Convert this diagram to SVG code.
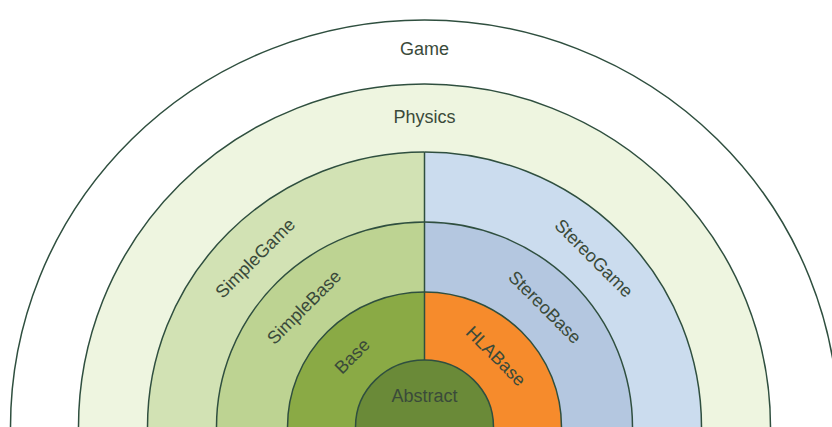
<svg xmlns="http://www.w3.org/2000/svg" width="832" height="427" viewBox="0 0 832 427">
<style>
.ring{stroke:#2f4f3f;stroke-width:1.5;fill:none}
.lbl{font-family:"Liberation Sans",Arial,sans-serif;font-size:18px;fill:#3a4a3a;text-anchor:middle}
</style>
<rect width="832" height="427" fill="#ffffff"/>
<g id="Game">
<ellipse cx="424.5" cy="427" rx="414" ry="407" fill="#ffffff"/>
<ellipse class="ring" cx="424.5" cy="427" rx="414" ry="407"/>
<text class="lbl" x="424.5" y="55">Game</text>
</g>
<g id="Physics">
<ellipse cx="424.5" cy="427" rx="346" ry="343" fill="#eef5e0"/>
<ellipse class="ring" cx="424.5" cy="427" rx="346" ry="343"/>
<text class="lbl" x="424.5" y="123">Physics</text>
</g>
<g id="SimpleGame">
<path d="M424.5,427 L147.5,427 A277,275 0 0 1 424.5,152 Z" fill="#d2e2b4"/>
<path class="ring" d="M147.5,427 A277,275 0 0 1 424.5,152"/>
<text class="lbl" transform="translate(255,258) rotate(-45)" dy="0.35em">SimpleGame</text>
</g>
<g id="StereoGame">
<path d="M424.5,427 L424.5,152 A277,275 0 0 1 701.5,427 Z" fill="#cbdcee"/>
<path class="ring" d="M424.5,152 A277,275 0 0 1 701.5,427"/>
<text class="lbl" transform="translate(594,258) rotate(45)" dy="0.35em">StereoGame</text>
</g>
<g id="SimpleBase">
<path d="M424.5,427 L216.5,427 A208,205 0 0 1 424.5,222 Z" fill="#bdd392"/>
<path class="ring" d="M216.5,427 A208,205 0 0 1 424.5,222"/>
<text class="lbl" transform="translate(304,307) rotate(-45)" dy="0.35em">SimpleBase</text>
</g>
<g id="StereoBase">
<path d="M424.5,427 L424.5,222 A208,205 0 0 1 632.5,427 Z" fill="#b4c7e0"/>
<path class="ring" d="M424.5,222 A208,205 0 0 1 632.5,427"/>
<text class="lbl" transform="translate(545,307) rotate(45)" dy="0.35em">StereoBase</text>
</g>
<g id="Base">
<path d="M424.5,427 L287.5,427 A137,135 0 0 1 424.5,292 Z" fill="#8aaa45"/>
<path class="ring" d="M287.5,427 A137,135 0 0 1 424.5,292"/>
<text class="lbl" transform="translate(352,356) rotate(-45)" dy="0.35em">Base</text>
</g>
<g id="HLABase">
<path d="M424.5,427 L424.5,292 A137,135 0 0 1 561.5,427 Z" fill="#f68b2c"/>
<path class="ring" d="M424.5,292 A137,135 0 0 1 561.5,427"/>
<text class="lbl" transform="translate(496,356) rotate(45)" dy="0.35em">HLABase</text>
</g>
<g id="connectors">
<line class="ring" x1="424.5" y1="152" x2="424.5" y2="360"/>
</g>
<g id="Abstract">
<ellipse cx="424.5" cy="427" rx="69" ry="67" fill="#6a8a38"/>
<ellipse class="ring" cx="424.5" cy="427" rx="69" ry="67"/>
<text class="lbl" x="424.5" y="402">Abstract</text>
</g>
</svg>
